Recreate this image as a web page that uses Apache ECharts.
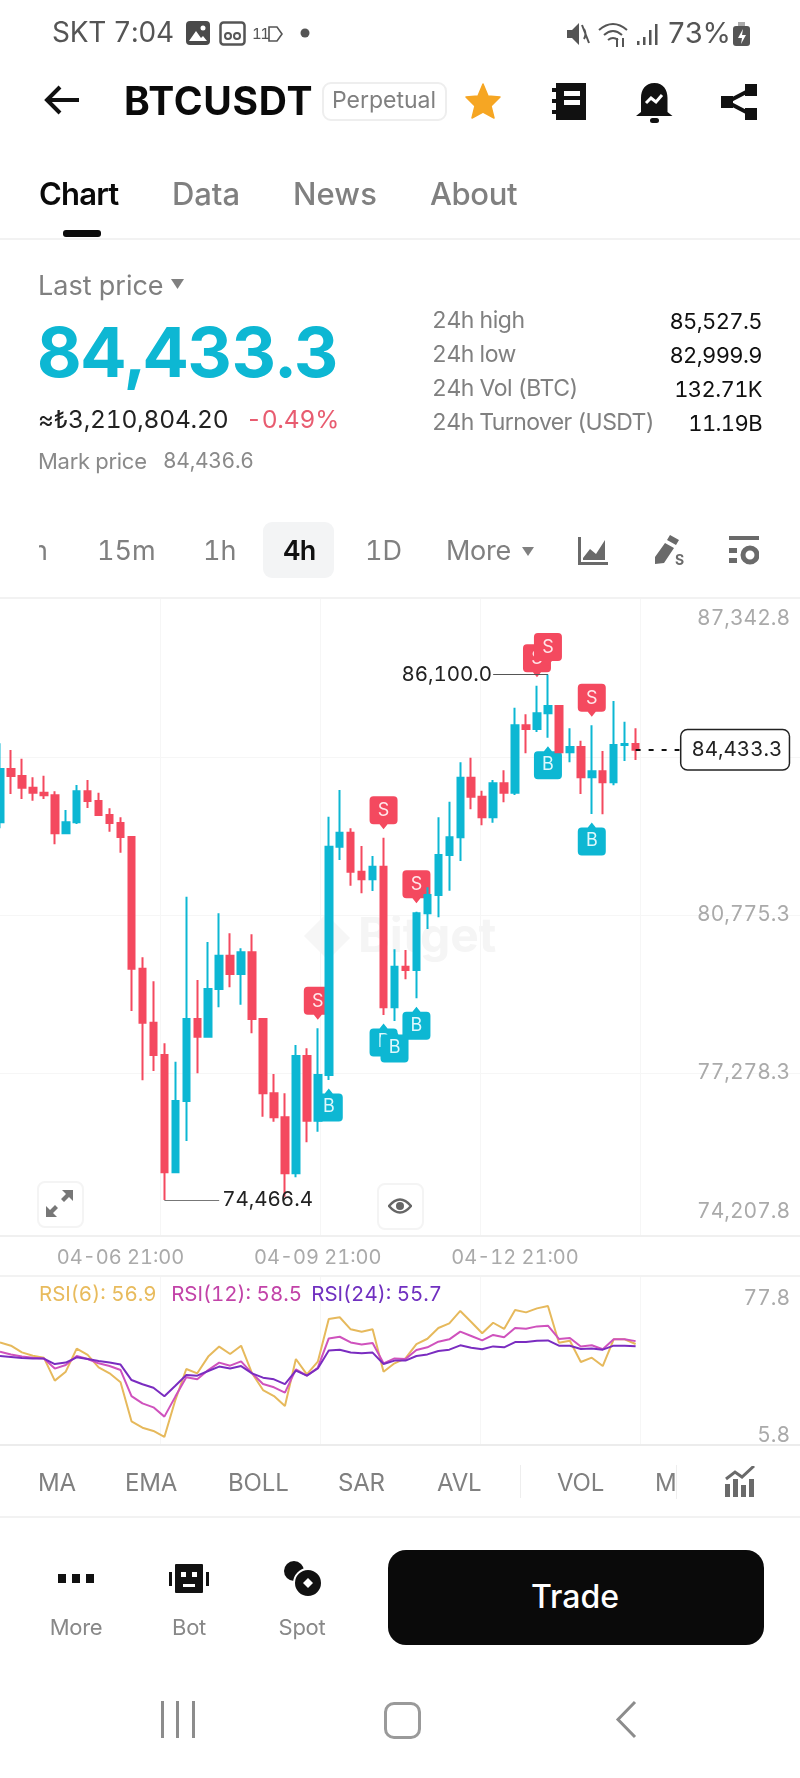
<!DOCTYPE html>
<html>
<head>
<meta charset="utf-8">
<title>BTCUSDT</title>
<script src="https://cdn.jsdelivr.net/npm/echarts@6/dist/echarts.min.js"></script>
<style>
html,body{margin:0;padding:0;background:#fff;overflow:hidden}
body{width:800px;height:1778px;position:relative;font-family:Inter,"Noto Sans",sans-serif;font-variant-numeric:tabular-nums}
#main{position:absolute;left:0;top:0;width:800px;height:1778px}
.t{position:absolute;white-space:nowrap;transform:translateY(-50%);line-height:1.2;z-index:3}
.r{transform:translate(-100%,-50%)}
.c{transform:translate(-50%,-50%)}
.g{color:#808080}
.i{position:absolute;z-index:3}
.ln{position:absolute;left:0;width:800px;height:2px;background:#f2f2f2;z-index:3}
</style>
</head>
<body>
<div id="main"></div>

<!-- status bar -->
<div class="t" style="left:52px;top:33px;font-size:28px;color:#555;letter-spacing:-.3px">SKT 7:04</div>
<svg class="i" style="left:186px;top:21px" width="24" height="24"><rect width="24" height="24" rx="4" fill="#4a4a4a"/><circle cx="17" cy="7" r="2.5" fill="#fff"/><path d="M3 20l7-10 5 7 2-2 4 5z" fill="#fff"/></svg>
<svg class="i" style="left:219px;top:21px" width="27" height="25"><rect x="1.5" y="1.5" width="24" height="22" rx="3" fill="none" stroke="#555" stroke-width="2.5"/><circle cx="9" cy="15" r="3" fill="none" stroke="#555" stroke-width="2"/><circle cx="18" cy="15" r="3" fill="none" stroke="#555" stroke-width="2"/></svg>
<div class="t" style="left:252px;top:34px;font-size:15px;color:#555;letter-spacing:-1.5px">11</div>
<svg class="i" style="left:268px;top:26px" width="15" height="16"><path d="M1 1h8l5 7-5 7H1z" fill="none" stroke="#555" stroke-width="1.6"/></svg>
<svg class="i" style="left:300px;top:28px" width="10" height="10"><circle cx="5" cy="5" r="4.5" fill="#555"/></svg>
<svg class="i" style="left:566px;top:22px" width="24" height="24"><path d="M1 8h5l7-7v22l-7-7H1z" fill="#555"/><path d="M16 3l7 18M18 7q3 5 0 10" stroke="#555" stroke-width="2" fill="none"/></svg>
<svg class="i" style="left:597px;top:20px" width="34" height="28" fill="none" stroke="#555" stroke-width="2"><path d="M2 10q14-12 28 0M7 15q9-8 18 0M11 20q5-4 10 0"/><path d="M20 18v9M26 18v9"/></svg>
<svg class="i" style="left:637px;top:24px" width="22" height="22" fill="#555"><rect x="0" y="17" width="2.5" height="4"/><rect x="6" y="13" width="2.5" height="8"/><rect x="12" y="6" width="2.5" height="15"/><rect x="18" y="0" width="2.5" height="21"/></svg>
<div class="t" style="left:667px;top:33px;font-size:29px;color:#555;letter-spacing:-1px">73%</div>
<svg class="i" style="left:733px;top:22px" width="17" height="24"><rect x="5" y="0" width="7" height="4" fill="#aaa"/><rect x="0" y="4" width="17" height="20" rx="3" fill="#555"/><path d="M10 7l-5 9h4l-1 6 5-9H9z" fill="#fff"/></svg>

<!-- title bar -->
<svg class="i" style="left:44px;top:84px" width="36" height="32" fill="none" stroke="#111" stroke-width="4"><path d="M35 16H4M16 3L3 16l13 13"/></svg>
<div class="t" style="left:124px;top:101px;font-size:39px;font-weight:700;color:#0a0a0a;letter-spacing:.7px">BTCUSDT</div>
<div class="i" style="left:322px;top:82px;width:121px;height:35px;border:2px solid #eee;border-radius:9px"></div>
<div class="t c g" style="left:384px;top:101px;font-size:23px">Perpetual</div>
<svg class="i" style="left:465px;top:83px" width="36" height="36"><path d="M18 1l5 12 12 1-9 9 3 12-11-6-11 6 3-12-9-9 12-1z" fill="#f6a623" stroke="#f6a623" stroke-width="1.5" stroke-linejoin="round"/></svg>
<svg class="i" style="left:552px;top:83px" width="34" height="37"><path d="M4 0h30v37H4v-6H0v-4h4v-7H0v-4h4V9H0V5h4z" fill="#111"/><rect x="12" y="8" width="16" height="5" fill="#fff"/><rect x="12" y="17" width="16" height="5" fill="#fff"/></svg>
<svg class="i" style="left:636px;top:83px" width="37" height="40"><path d="M18.500 0c9 0 13 7 13 15v14l5 4H0l5-4V15c0-8 4-15 13.500-15z" fill="#111"/><rect x="14" y="35" width="9" height="5" rx="2.500" fill="#111"/><path d="M10 20l5-5 5 4 6-7" fill="none" stroke="#fff" stroke-width="3"/></svg>
<svg class="i" style="left:721px;top:84px" width="36" height="36"><path d="M6 18L31 5M6 18l25 13" stroke="#111" stroke-width="4"/><rect x="0" y="12" width="12" height="12" fill="#111"/><rect x="24" y="0" width="12" height="12" fill="#111"/><rect x="24" y="24" width="12" height="12" fill="#111"/></svg>

<!-- tabs -->
<div class="t" style="left:39px;top:194px;font-size:31px;font-weight:600;color:#0a0a0a;letter-spacing:-.8px">Chart</div>
<div class="t g" style="left:172px;top:194px;font-size:31px;font-weight:500;letter-spacing:-.1px">Data</div>
<div class="t g" style="left:293px;top:194px;font-size:31px;font-weight:500;letter-spacing:.1px">News</div>
<div class="t g" style="left:430px;top:194px;font-size:31px;font-weight:500;letter-spacing:-.4px">About</div>
<div class="i" style="left:63px;top:230px;width:38px;height:7px;background:#0a0a0a;border-radius:3px"></div>
<div class="ln" style="top:238px"></div>

<!-- price block -->
<div class="t g" style="left:38px;top:286px;font-size:27px">Last price</div>
<svg class="i" style="left:171px;top:279px" width="13" height="10"><path d="M0 0h13L6.500 10z" fill="#808080"/></svg>
<div class="t" style="left:37px;top:352px;font-size:69px;font-weight:700;color:#0db7d3;letter-spacing:-.4px">84,433.3</div>
<div class="t" style="left:38px;top:420px;font-size:24.5px;color:#222;letter-spacing:-.2px">≈₺3,210,804.20</div>
<div class="t" style="left:246px;top:420px;font-size:24.5px;color:#e85c70;letter-spacing:-.2px">-0.49%</div>
<div class="t" style="left:38px;top:461px;font-size:22px;color:#8a8a8a;letter-spacing:-.3px">Mark price</div>
<div class="t" style="left:163px;top:461px;font-size:21px;color:#8a8a8a;letter-spacing:-.3px">84,436.6</div>
<div class="t g" style="left:432px;top:321px;font-size:23px;letter-spacing:-.5px">24h high</div>
<div class="t g" style="left:432px;top:355px;font-size:23px;letter-spacing:-.5px">24h low</div>
<div class="t g" style="left:432px;top:389px;font-size:23px;letter-spacing:-.5px">24h Vol (BTC)</div>
<div class="t g" style="left:432px;top:423px;font-size:23px;letter-spacing:-.6px">24h Turnover (USDT)</div>
<div class="t r" style="left:762px;top:321px;font-size:22px;color:#111;letter-spacing:-.6px">85,527.5</div>
<div class="t r" style="left:762px;top:355px;font-size:22px;color:#111;letter-spacing:-.6px">82,999.9</div>
<div class="t r" style="left:762px;top:389px;font-size:22px;color:#111;letter-spacing:-.6px">132.71K</div>
<div class="t r" style="left:762px;top:423px;font-size:22px;color:#111;letter-spacing:-.6px">11.19B</div>

<!-- interval bar -->
<div class="i" style="left:39px;top:535px;width:9px;height:32px;overflow:hidden"><div style="position:absolute;right:0;top:0;font-size:27px;line-height:32px;color:#808080">m</div></div>
<div class="t g" style="left:97px;top:551px;font-size:27px">15m</div>
<div class="t g" style="left:203px;top:551px;font-size:27px">1h</div>
<div class="i" style="left:263px;top:522px;width:71px;height:56px;background:#f3f4f5;border-radius:9px"></div>
<div class="t" style="left:283px;top:551px;font-size:27px;font-weight:600;color:#111;letter-spacing:-.6px">4h</div>
<div class="t g" style="left:365px;top:551px;font-size:27px">1D</div>
<div class="t g" style="left:446px;top:551px;font-size:27px;letter-spacing:-.3px">More</div>
<svg class="i" style="left:522px;top:547px" width="12" height="9"><path d="M0 0h12L6 9z" fill="#808080"/></svg>
<svg class="i" style="left:578px;top:537px" width="30" height="28"><path d="M5 21l7-9 6 5 9-14v20H5z" fill="#6a6a6a"/><path d="M1.500 0v26.500H30" fill="none" stroke="#6a6a6a" stroke-width="3"/></svg>
<svg class="i" style="left:652px;top:535px" width="32" height="30"><path d="M18 0l9 5-3 5-9-5zM13 8l9 5-10 15-9 1 0-7z" fill="#6a6a6a"/><text x="23" y="30" font-size="14" font-weight="700" fill="#6a6a6a">S</text></svg>
<svg class="i" style="left:729px;top:536px" width="30" height="30" fill="#6a6a6a"><rect width="30" height="4"/><rect y="12" width="8" height="5"/><rect y="22" width="8" height="5"/><circle cx="21" cy="19" r="7" fill="none" stroke="#6a6a6a" stroke-width="5"/></svg>
<div class="ln" style="top:597px"></div>

<!-- overlay buttons on the chart -->
<div class="i" style="left:37px;top:1181px;width:43px;height:43px;border:2px solid #f4f4f4;border-radius:8px;background:#fff"></div>
<svg class="i" style="left:46px;top:1190px" width="27" height="27"><path d="M27 0v11l-4-4-5 5-3-3 5-5-4-4zM0 27V16l4 4 5-5 3 3-5 5 4 4z" fill="#777"/></svg>
<div class="i" style="left:377px;top:1183px;width:43px;height:43px;border:2px solid #f4f4f4;border-radius:8px;background:#fff"></div>
<svg class="i" style="left:388px;top:1197px" width="24" height="18"><path d="M1 9q11-13 22 0-11 13-22 0z" fill="none" stroke="#666" stroke-width="2.500"/><circle cx="12" cy="9" r="4" fill="#666"/></svg>

<!-- indicator row -->
<div class="t g" style="left:38px;top:1483px;font-size:24px;letter-spacing:-.2px">MA</div>
<div class="t g" style="left:125px;top:1483px;font-size:24px;letter-spacing:-.2px">EMA</div>
<div class="t g" style="left:228px;top:1483px;font-size:24px;letter-spacing:-.1px">BOLL</div>
<div class="t g" style="left:338px;top:1483px;font-size:24px;letter-spacing:-.2px">SAR</div>
<div class="t g" style="left:437px;top:1483px;font-size:24px;letter-spacing:-.2px">AVL</div>
<div class="i" style="left:520px;top:1465px;width:1px;height:33px;background:#eee"></div>
<div class="t g" style="left:557px;top:1483px;font-size:24px;letter-spacing:-.2px">VOL</div>
<div class="i" style="left:655px;top:1465px;width:21px;height:34px;overflow:hidden;border-right:1px solid #eee"><div style="position:absolute;left:0;top:3px;font-size:24px;line-height:29px;color:#808080">M</div></div>
<svg class="i" style="left:725px;top:1466px" width="30" height="31" fill="#6a6a6a"><rect y="18" width="5" height="13"/><rect x="8" y="13" width="5" height="18"/><rect x="16" y="19" width="5" height="12"/><rect x="24" y="13" width="5" height="18"/><path d="M1 13l9-7 7 5 12-11" fill="none" stroke="#6a6a6a" stroke-width="3"/></svg>
<div class="ln" style="top:1516px"></div>

<!-- bottom actions -->
<svg class="i" style="left:58px;top:1574px" width="36" height="9" fill="#111"><rect width="8" height="9"/><rect x="14" width="8" height="9"/><rect x="28" width="8" height="9"/></svg>
<svg class="i" style="left:169px;top:1564px" width="40" height="30" fill="#111"><rect x="6" width="28" height="29" rx="1"/><rect y="8" width="3" height="14"/><rect x="37" y="8" width="3" height="14"/><rect x="12" y="8" width="5" height="5" fill="#fff"/><rect x="23" y="8" width="5" height="5" fill="#fff"/><rect x="14" y="20" width="12" height="3" fill="#fff"/></svg>
<svg class="i" style="left:283px;top:1560px" width="40" height="38"><circle cx="11" cy="11" r="10" fill="#111"/><circle cx="25" cy="23" r="14" fill="#111" stroke="#fff" stroke-width="2"/><path d="M25 18l5 5-5 5-5-5z" fill="#fff"/></svg>
<div class="t c" style="left:76px;top:1627px;font-size:22px;color:#888;letter-spacing:-.3px">More</div>
<div class="t c" style="left:189px;top:1627px;font-size:22px;color:#888;letter-spacing:-.3px">Bot</div>
<div class="t c" style="left:302px;top:1627px;font-size:22px;color:#888;letter-spacing:-.3px">Spot</div>
<div class="i" style="left:388px;top:1550px;width:376px;height:95px;background:#0a0a0a;border-radius:18px"></div>
<div class="t c" style="left:575px;top:1597px;font-size:32px;font-weight:500;color:#fff">Trade</div>

<!-- system nav -->
<svg class="i" style="left:160px;top:1701px" width="36" height="37" fill="#8c8c8c"><rect x="1" width="3" height="37"/><rect x="16" width="3" height="37"/><rect x="32" width="3" height="37"/></svg>
<div class="i" style="left:384px;top:1702px;width:31px;height:31px;border:3px solid #9a9a9a;border-radius:10px"></div>
<svg class="i" style="left:614px;top:1700px" width="24" height="39"><path d="M21 2L4 19.500 21 37" fill="none" stroke="#8c8c8c" stroke-width="3"/></svg>

<script type="text/javascript">
// 4h candles, 04-05 01:00 to 04-14 17:00
var categories = [
  '04-05 01:00','04-05 05:00','04-05 09:00','04-05 13:00','04-05 17:00','04-05 21:00',
  '04-06 01:00','04-06 05:00','04-06 09:00','04-06 13:00','04-06 17:00','04-06 21:00',
  '04-07 01:00','04-07 05:00','04-07 09:00','04-07 13:00','04-07 17:00','04-07 21:00',
  '04-08 01:00','04-08 05:00','04-08 09:00','04-08 13:00','04-08 17:00','04-08 21:00',
  '04-09 01:00','04-09 05:00','04-09 09:00','04-09 13:00','04-09 17:00','04-09 21:00',
  '04-10 01:00','04-10 05:00','04-10 09:00','04-10 13:00','04-10 17:00','04-10 21:00',
  '04-11 01:00','04-11 05:00','04-11 09:00','04-11 13:00','04-11 17:00','04-11 21:00',
  '04-12 01:00','04-12 05:00','04-12 09:00','04-12 13:00','04-12 17:00','04-12 21:00',
  '04-13 01:00','04-13 05:00','04-13 09:00','04-13 13:00','04-13 17:00','04-13 21:00',
  '04-14 01:00','04-14 05:00','04-14 09:00','04-14 13:00','04-14 17:00',
  // empty room on the right of the last candle
  '','','','','','','','','','','','','','',''
];
var xLabelIndex = [11, 29, 47];

var opens = [82827,84006,83851,83592,83482,83424,82583,82827,83513,83298,82988,82811,82501,79587,78392,77677,75081,76659,78473,78082,79137,79874,79469,79950,78473,76829,76298,75059,77655,76223,77234,82286,82596,81733,81565,81844,78732,79631,79558,80813,81218,82103,82494,83813,83393,82937,83689,83482,84973,84891,85239,85400,84376,84493,83822,83955,83712,84537,84560];
var closes = [84006,83851,83592,83482,83424,82583,82827,83513,83298,82988,82811,82501,79587,78392,77677,75081,76659,78473,78082,79137,79874,79469,79950,78473,76829,76298,75059,77655,76223,77234,82286,82596,81733,81565,81844,78732,79631,79558,80813,81218,82103,82494,83813,83393,82937,83689,83482,84973,84891,85239,85400,84376,84493,83822,83955,83712,84537,84560,84433.3];
var lows = [82694,83453,83342,83305,83342,82340,82561,82789,83143,82981,82618,82154,78651,77117,77323,74466.4,75059,75774,77272,78075,78732,79175,78790,78157,76311,76201,74541,74970,75745,75979,77124,81992,81423,81255,81306,78562,78429,79352,78932,80465,80724,81313,81970,83114,82760,82818,83269,83431,84353,84825,84699,84370,84154,83453,83010,83003,83645,84183,84205];
var highs = [84575,84427,84234,83822,83858,83513,83099,83652,83763,83482,83136,82937,82510,79839,79308,77936,77529,81180,79337,80177,80813,80370,80038,80348,78480,77256,76829,77898,77825,78268,82950,83541,82694,82302,82081,82486,80016,80000,80848,81388,82937,83282,84154,84256,83526,83763,83977,85363,85216,85849,86100,85405,84907,84632,84973,84404,85511,85053,84907];

// the "Top" lists stack over their neighbour
var sellIndex = [29, 35, 38, 49, 54];
var sellTopIndex = [50];
var buyIndex = [30, 35, 38, 50, 54];
var buyTopIndex = [36];

var priceLabels = [87342.8, 80775.3, 77278.3, 74207.8];
var priceLines = [84272.3, 80775.3, 77278.3];
var lastPrice = 84433.3;
var highMark = {index: 50, price: 86100};
var lowMark = {index: 15, price: 74466.4};

var rsi6 = [57.8,56.0,52.3,50.5,49.4,36.8,41.7,54.4,50.9,44.1,40.8,35.9,14.4,10.9,9.1,5.8,26.1,43.2,40.8,50.0,55.5,51.4,56.0,40.8,31.6,28.3,22.8,48.7,40.2,47.2,70.7,71.6,65.0,63.7,65.0,41.7,46.3,49.0,56.9,59.8,65.7,68.3,75.1,69.0,62.8,68.6,65.2,75.6,74.3,76.5,77.8,57.6,58.7,47.0,49.4,44.8,59.5,59.5,56.9];
var rsi12 = [52.7,51.2,50.0,49.4,49.0,43.4,45.4,50.3,48.7,46.3,44.8,42.6,28.3,24.3,22.1,17.0,28.0,38.6,37.5,42.6,46.7,45.0,47.4,40.8,34.9,33.1,30.2,43.0,39.5,43.9,60.0,60.9,57.8,56.7,57.5,46.3,49.0,48.7,53.6,55.1,58.2,59.5,63.7,61.3,58.9,61.9,60.6,65.7,65.3,66.6,67.0,59.7,60.2,55.5,56.2,54.0,59.5,59.5,58.5];
var rsi24 = [50.3,49.8,49.2,49.0,48.9,45.9,46.7,49.6,48.7,47.6,46.7,45.6,37.1,34.8,32.9,28.2,34.0,39.9,39.5,42.1,44.5,43.5,44.8,40.8,38.4,37.5,34.9,42.3,39.5,43.5,53.3,53.8,52.2,51.8,52.2,45.9,47.8,47.8,50.3,51.2,53.1,53.8,56.2,54.9,54.0,55.6,55.1,58.0,58.0,58.7,58.9,56.0,56.0,54.2,54.5,53.8,56.0,56.0,55.7];
var rsiNames = ['RSI(6)', 'RSI(12)', 'RSI(24)'];
var rsiLast = [56.9, 58.5, 55.7];

var UP = '#0db7d3', DOWN = '#f4495f', GRID = '#f6f6f6';
var FONT = 'Inter, "Noto Sans", sans-serif';
// bubble with a small tip, pointing down
var PIN_DOWN = 'path://M4 0H24a4 4 0 0 1 4 4V24a4 4 0 0 1-4 4H18L14 33L10 28H4a4 4 0 0 1-4-4V4a4 4 0 0 1 4-4Z';
var PIN_UP = 'path://M4 33H24a4 4 0 0 0 4-4V9a4 4 0 0 0-4-4H18L14 0L10 5H4a4 4 0 0 0-4 4V29a4 4 0 0 0 4 4Z';

function fmt(v) {
    return v.toLocaleString('en-US', {minimumFractionDigits: 1, maximumFractionDigits: 1});
}

var candles = [];
for (var i = 0; i < opens.length; i++) {
    candles.push([opens[i], closes[i], lows[i], highs[i]]);
}

function sellSeries(idx, z) {
    return {
        name: 'Sell',
        type: 'scatter',
        xAxisIndex: 0,
        yAxisIndex: 0,
        z: z,
        silent: true,
        data: idx.map(function (k) { return [k, highs[k]]; }),
        symbol: PIN_DOWN,
        symbolSize: [28, 33],
        symbolOffset: [0, -25],
        itemStyle: {color: DOWN, opacity: 1},
        label: {show: true, position: 'inside', offset: [0, -2], formatter: 'S', color: '#ffe6ea', fontSize: 18}
    };
}

function buySeries(idx, z) {
    return {
        name: 'Buy',
        type: 'scatter',
        xAxisIndex: 0,
        yAxisIndex: 0,
        z: z,
        silent: true,
        data: idx.map(function (k) { return [k, lows[k]]; }),
        symbol: PIN_UP,
        symbolSize: [28, 33],
        symbolOffset: [0, 25],
        itemStyle: {color: UP, opacity: 1},
        label: {show: true, position: 'inside', offset: [0, 2], formatter: 'B', color: '#dff8fc', fontSize: 18}
    };
}

var myChart = echarts.init(document.getElementById('main'));
var option = {
    animation: false,
    textStyle: {fontFamily: FONT},
    legend: {
        left: 34,
        top: 1284,
        icon: 'none',
        itemWidth: 0,
        itemGap: 13,
        padding: 0,
        selectedMode: false,
        data: rsiNames,
        formatter: function (name) {
            return name + ': ' + rsiLast[rsiNames.indexOf(name)];
        },
        textStyle: {fontSize: 20.5, color: 'inherit', fontFamily: FONT, padding: 0}
    },
    grid: [
        {left: 0, right: 0, top: 598, height: 638},
        {left: 0, right: 0, top: 1276, height: 169}
    ],
    xAxis: [
        {
            gridIndex: 0,
            type: 'category',
            data: categories,
            boundaryGap: false,
            axisLine: {lineStyle: {color: '#f0f0f0', width: 2}},
            axisTick: {show: false},
            axisLabel: {
                color: '#aaaaaa',
                fontSize: 20,
                margin: 12,
                interval: function (idx) { return xLabelIndex.indexOf(idx) >= 0; }
            }
        },
        {
            gridIndex: 1,
            type: 'category',
            data: categories,
            boundaryGap: false,
            axisLine: {lineStyle: {color: '#ececec', width: 2}},
            axisTick: {show: false},
            axisLabel: {show: false}
        },
        // the vertical grid does not follow the candles
        {
            gridIndex: 0, type: 'value', position: 'top', min: 0, max: 800, interval: 160,
            axisLine: {show: false}, axisTick: {show: false}, axisLabel: {show: false},
            splitLine: {show: true, showMinLine: false, showMaxLine: false, lineStyle: {color: GRID, width: 1}}
        },
        {
            gridIndex: 1, type: 'value', position: 'top', min: 0, max: 800, interval: 160,
            axisLine: {show: true, onZero: false, lineStyle: {color: '#f2f2f2', width: 2}},
            axisTick: {show: false}, axisLabel: {show: false},
            splitLine: {show: true, showMinLine: false, showMaxLine: false, lineStyle: {color: GRID, width: 1}}
        }
    ],
    yAxis: [
        {
            gridIndex: 0,
            type: 'value',
            position: 'right',
            min: 73671.6,
            max: 87790.5,
            axisLine: {show: false},
            axisTick: {show: false, customValues: priceLines},
            splitLine: {show: true, lineStyle: {color: GRID, width: 1}},
            axisLabel: {
                inside: true,
                margin: 10,
                color: '#aaaaaa',
                fontSize: 21,
                padding: [8, 0, 0, 0],
                customValues: priceLabels,
                formatter: function (v) { return fmt(v); }
            }
        },
        {
            gridIndex: 1,
            type: 'value',
            position: 'right',
            min: 1.4,
            max: 94.3,
            axisLine: {show: false},
            axisTick: {show: false},
            splitLine: {show: false},
            axisLabel: {
                inside: true,
                margin: 10,
                color: '#aaaaaa',
                fontSize: 21,
                padding: [7, 0, 0, 0],
                // labels sit a little off the real 77.8 and 5.8 levels
                customValues: [81.6, 6.3],
                formatter: function (v) { return v > 50 ? '77.8' : '5.8'; }
            }
        }
    ],
    graphic: [
        {type: 'text', left: 358, top: 914, z: 0, style: {text: 'Bitget', fill: '#f5f5f5', fontSize: 48, fontWeight: 700, fontFamily: FONT}},
        {type: 'polygon', z: 0, shape: {points: [[304, 936], [326, 914], [350, 938], [328, 960]]}, style: {fill: '#f6f6f6'}}
    ],
    series: [
        sellSeries(sellIndex, 1),
        sellSeries(sellTopIndex, 1.1),
        buySeries(buyIndex, 1),
        buySeries(buyTopIndex, 1.1),
        {
            name: 'BTCUSDT',
            type: 'candlestick',
            xAxisIndex: 0,
            yAxisIndex: 0,
            z: 2,
            barWidth: 7,
            data: candles,
            itemStyle: {color: UP, color0: DOWN, borderColor: UP, borderColor0: DOWN, borderWidth: 2},
            markLine: {
                silent: true,
                symbol: ['none', 'none'],
                animation: false,
                data: [
                    [
                        {
                            coord: [highMark.index, highMark.price],
                            lineStyle: {color: '#555', width: 1, type: 'solid'},
                            label: {show: true, position: 'end', distance: 1, formatter: fmt(highMark.price), color: '#222', fontSize: 20.5}
                        },
                        {coord: [highMark.index - 5, highMark.price]}
                    ],
                    [
                        {
                            coord: [lowMark.index, lowMark.price],
                            lineStyle: {color: '#777', width: 1, type: 'solid'},
                            label: {show: true, position: 'end', distance: 3, formatter: fmt(lowMark.price), color: '#222', fontSize: 20.5}
                        },
                        {coord: [lowMark.index + 5, lowMark.price]}
                    ],
                    [
                        {
                            coord: [opens.length - 1, lastPrice],
                            lineStyle: {color: '#111', width: 2, type: [5, 8]},
                            label: {
                                show: true, position: 'end', distance: 2, formatter: fmt(lastPrice),
                                color: '#222', fontSize: 20.5, backgroundColor: '#fff',
                                borderColor: '#222', borderWidth: 1.5, borderRadius: 6, padding: [9, 10, 9, 10]
                            }
                        },
                        {coord: [opens.length + 3, lastPrice]}
                    ]
                ]
            }
        },
        {
            name: 'RSI(6)', type: 'line', xAxisIndex: 1, yAxisIndex: 1, data: rsi6,
            showSymbol: false, symbol: 'none', lineStyle: {color: '#e6b95c', width: 2}, itemStyle: {color: '#e8bb5d'}
        },
        {
            name: 'RSI(12)', type: 'line', xAxisIndex: 1, yAxisIndex: 1, data: rsi12,
            showSymbol: false, symbol: 'none', lineStyle: {color: '#cf52bd', width: 2}, itemStyle: {color: '#c243a8'}
        },
        {
            name: 'RSI(24)', type: 'line', xAxisIndex: 1, yAxisIndex: 1, data: rsi24,
            showSymbol: false, symbol: 'none', lineStyle: {color: '#7a2cc0', width: 2}, itemStyle: {color: '#7030c0'}
        }
    ]
};
myChart.setOption(option);
</script>
</body>
</html>
